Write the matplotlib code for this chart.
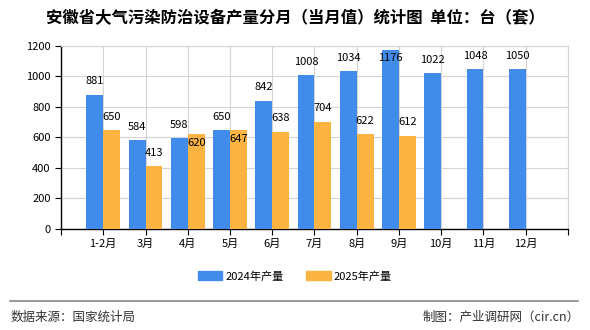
import numpy as np
import matplotlib
matplotlib.use("Agg")
import matplotlib.pyplot as plt
from matplotlib.patches import Patch

plt.rcParams['font.family'] = ['Noto Sans CJK SC', 'DejaVu Sans']

# data
months = ['1-2月', '3月', '4月', '5月', '6月', '7月', '8月', '9月', '10月', '11月', '12月']
prod_2024 = [881, 584, 598, 650, 842, 1008, 1034, 1176, 1022, 1048, 1050]
prod_2025 = [650, 413, 620, 647, 638, 704, 622, 612]

blue = '#418BEB'
orange = '#FBB441'

fig = plt.figure(figsize=(5.9, 3.3), dpi=100)
ax = fig.add_axes([0.1034, 0.306, 0.8593, 0.555])

x = np.arange(len(months))
w = 0.4
ax.bar(x - w/2, prod_2024, width=w, color=blue, zorder=3)
x25 = np.arange(len(prod_2025))
ax.bar(x25 + w/2, prod_2025, width=w, color=orange, zorder=3)

# value labels (label centre offset from bar top, in points)
up, down = 9.5, -6.0
off24 = [up] * len(prod_2024)
off24[7] = down          # 1176 would leave the plot, sits inside bar
for xi, v, o in zip(x, prod_2024, off24):
    ax.annotate(str(v), (xi - w/2, v), xytext=(0, o), textcoords='offset points',
                ha='center', va='center', fontsize=8, zorder=5)
off25 = [up, up, down, down, up, up, up, up]
for xi, v, o in zip(x25, prod_2025, off25):
    ax.annotate(str(v), (xi + w/2, v), xytext=(0, o), textcoords='offset points',
                ha='center', va='center', fontsize=8, zorder=5)

ax.set_xlim(-1, 11)
ax.set_ylim(0, 1200)
ax.set_yticks(np.arange(0, 1201, 200))
ax.set_xticks(np.arange(-1, 12))
ax.set_xticklabels([''] + months + [''])
ax.tick_params(axis='both', labelsize=8, length=4, direction='out', color='black')
ax.tick_params(axis='x', pad=3)

ax.grid(True, color='#d4d4d4', linewidth=0.8, zorder=0)
ax.set_axisbelow(True)
for s in ['top', 'right']:
    ax.spines[s].set_color('#d4d4d4')
for s in ['left', 'bottom']:
    ax.spines[s].set_color('black')
    ax.spines[s].set_linewidth(1.0)

fig.text(0.5, 0.945, '安徽省大气污染防治设备产量分月（当月值）统计图  单位：台（套）',
         ha='center', va='center', fontsize=11.8, fontweight='bold')

handles = [Patch(color=blue, label='2024年产量'), Patch(color=orange, label='2025年产量')]
fig.legend(handles=handles, loc='center', bbox_to_anchor=(0.5, 0.163), ncol=2,
           frameon=False, fontsize=8, handlelength=2.2, handleheight=0.8,
           columnspacing=2.0, handletextpad=0.3)

fig.add_artist(plt.Line2D([0.017, 0.98], [0.088, 0.088], color='#888888', linewidth=1.2,
                          transform=fig.transFigure))
fig.text(0.018, 0.04, '数据来源：国家统计局', ha='left', va='center', fontsize=9, color='#333333')
fig.text(0.982, 0.04, '制图：产业调研网（cir.cn）', ha='right', va='center', fontsize=9, color='#333333')

fig.savefig('out.png', dpi=100, facecolor='white')
